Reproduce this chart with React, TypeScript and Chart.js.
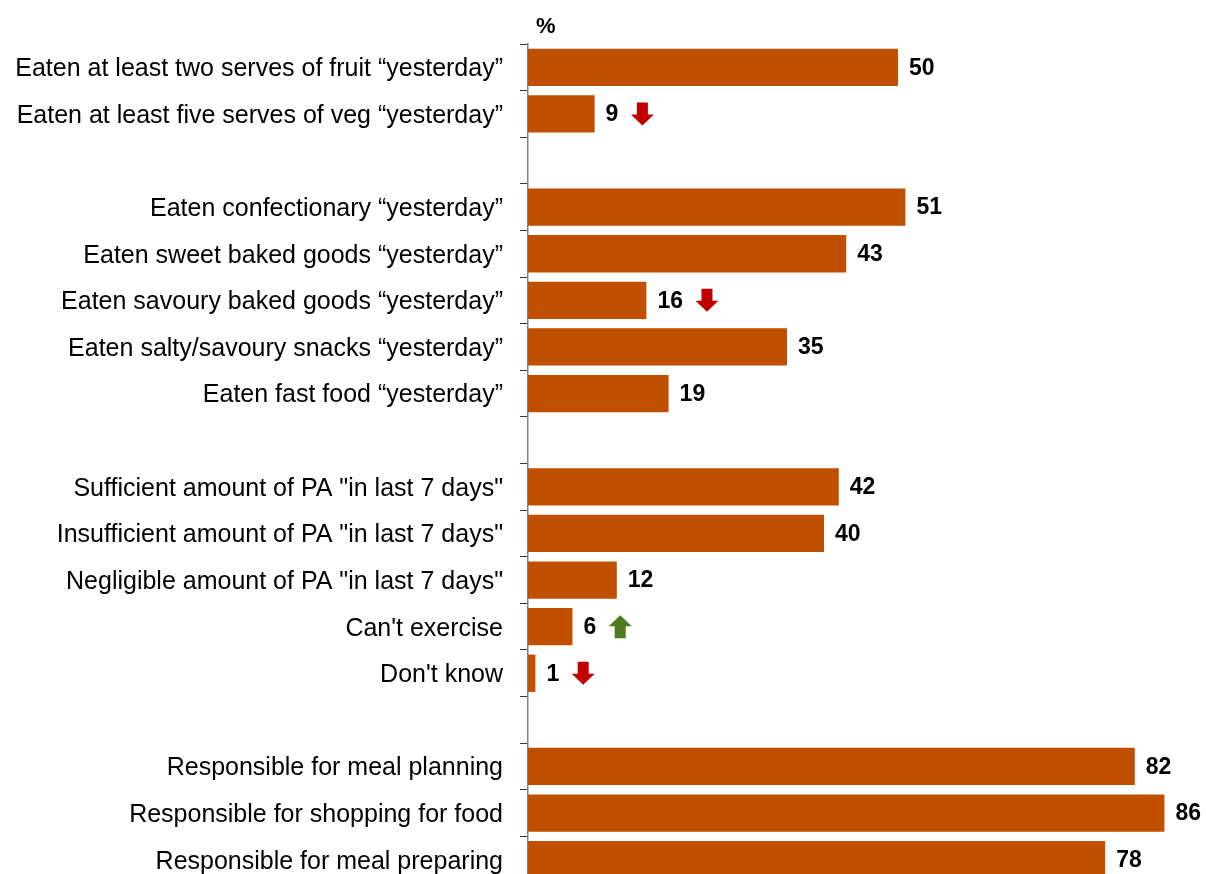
import React, { useEffect, useRef } from "react";
import { Chart, registerables } from "chart.js";

Chart.register(...registerables);

const categories: string[] = [
  "Eaten at least two serves of fruit \u201cyesterday\u201d",
  "Eaten at least five serves of veg \u201cyesterday\u201d",
  "",
  "Eaten confectionary \u201cyesterday\u201d",
  "Eaten sweet baked goods \u201cyesterday\u201d",
  "Eaten savoury baked goods \u201cyesterday\u201d",
  "Eaten salty/savoury snacks \u201cyesterday\u201d",
  "Eaten fast food \u201cyesterday\u201d",
  "",
  "Sufficient amount of PA \"in last 7 days\"",
  "Insufficient amount of PA \"in last 7 days\"",
  "Negligible amount of PA \"in last 7 days\"",
  "Can't exercise",
  "Don't know",
  "",
  "Responsible for meal planning",
  "Responsible for shopping for food",
  "Responsible for meal preparing",
];

const values: (number | null)[] = [50, 9, null, 51, 43, 16, 35, 19, null, 42, 40, 12, 6, 1, null, 82, 86, 78];

// "down" = significant decrease, "up" = significant increase
const changes: (string | null)[] = [null, "down", null, null, null, "down", null, null, null, null, null, null, "up", "down", null, null, null, null];

const BAR_COLOR = "#C04F00";
const FONT = "'Liberation Sans', Arial, sans-serif";

const labelPlugin = {
  id: "valueLabels",
  afterDatasetsDraw(chart: any) {
    const ctx = chart.ctx;
    const meta = chart.getDatasetMeta(0);
    ctx.save();
    ctx.font = `bold 23px ${FONT}`;
    ctx.textBaseline = "middle";
    ctx.textAlign = "left";
    ctx.fillStyle = "#000";
    meta.data.forEach((bar: any, i: number) => {
      const v = values[i];
      if (v === null || v === undefined) return;
      const x = bar.x + 11;
      const y = bar.y + 1;
      const txt = String(v);
      ctx.fillText(txt, x, y);
      const ch = changes[i];
      if (ch) {
        const w = ctx.measureText(txt).width;
        const cx = x + w + 24;
        const cy = bar.y;
        const hw = 11.5, sw = 5.5, h = 11.5, headH = 11;
        ctx.beginPath();
        if (ch === "down") {
          ctx.fillStyle = "#C00000";
          ctx.moveTo(cx - sw, cy - h);
          ctx.lineTo(cx + sw, cy - h);
          ctx.lineTo(cx + sw, cy + h - headH);
          ctx.lineTo(cx + hw, cy + h - headH);
          ctx.lineTo(cx, cy + h);
          ctx.lineTo(cx - hw, cy + h - headH);
          ctx.lineTo(cx - sw, cy + h - headH);
        } else {
          ctx.fillStyle = "#4F7A1F";
          ctx.moveTo(cx - sw, cy + h);
          ctx.lineTo(cx + sw, cy + h);
          ctx.lineTo(cx + sw, cy - h + headH);
          ctx.lineTo(cx + hw, cy - h + headH);
          ctx.lineTo(cx, cy - h);
          ctx.lineTo(cx - hw, cy - h + headH);
          ctx.lineTo(cx - sw, cy - h + headH);
        }
        ctx.closePath();
        ctx.fill();
        ctx.fillStyle = "#000";
      }
    });
    // percent sign
    const area = chart.chartArea;
    ctx.font = `bold 22px ${FONT}`;
    ctx.fillText("%", area.left + 8, 27);
    ctx.restore();
  },
};

export default function App() {
  const ref = useRef<HTMLCanvasElement | null>(null);
  useEffect(() => {
    if (!ref.current) return;
    const chart = new Chart(ref.current, {
      type: "bar",
      data: {
        labels: categories,
        datasets: [
          {
            data: values,
            backgroundColor: BAR_COLOR,
            borderWidth: 0,
            categoryPercentage: 0.8,
            barPercentage: 1,
          },
        ],
      },
      options: {
        indexAxis: "y",
        animation: false,
        responsive: false,
        maintainAspectRatio: false,
        layout: { padding: { left: 0, right: 12, top: 44, bottom: 5 } },
        plugins: { legend: { display: false }, tooltip: { enabled: false } },
        scales: {
          x: { display: false, min: 0, max: 90 },
          y: {
            afterFit: (scale: any) => {
              scale.width = 528;
            },
            border: { display: true, color: "#808080", width: 1.5 },
            grid: {
              offset: true,
              drawOnChartArea: false,
              drawTicks: true,
              tickLength: 8,
              color: "#333",
              lineWidth: 1,
            },
            ticks: {
              color: "#000",
              padding: 17,
              labelOffset: 2,
              font: { family: FONT, size: 25 },
              autoSkip: false,
            },
          },
        },
      },
      plugins: [labelPlugin],
    });
    return () => chart.destroy();
  }, []);
  return (
    <div style={{ position: "absolute", left: 0, top: 0, width: 1206, height: 915, overflow: "hidden" }}>
      <canvas ref={ref} width={1206} height={915} style={{ display: "block" }} />
    </div>
  );
}
